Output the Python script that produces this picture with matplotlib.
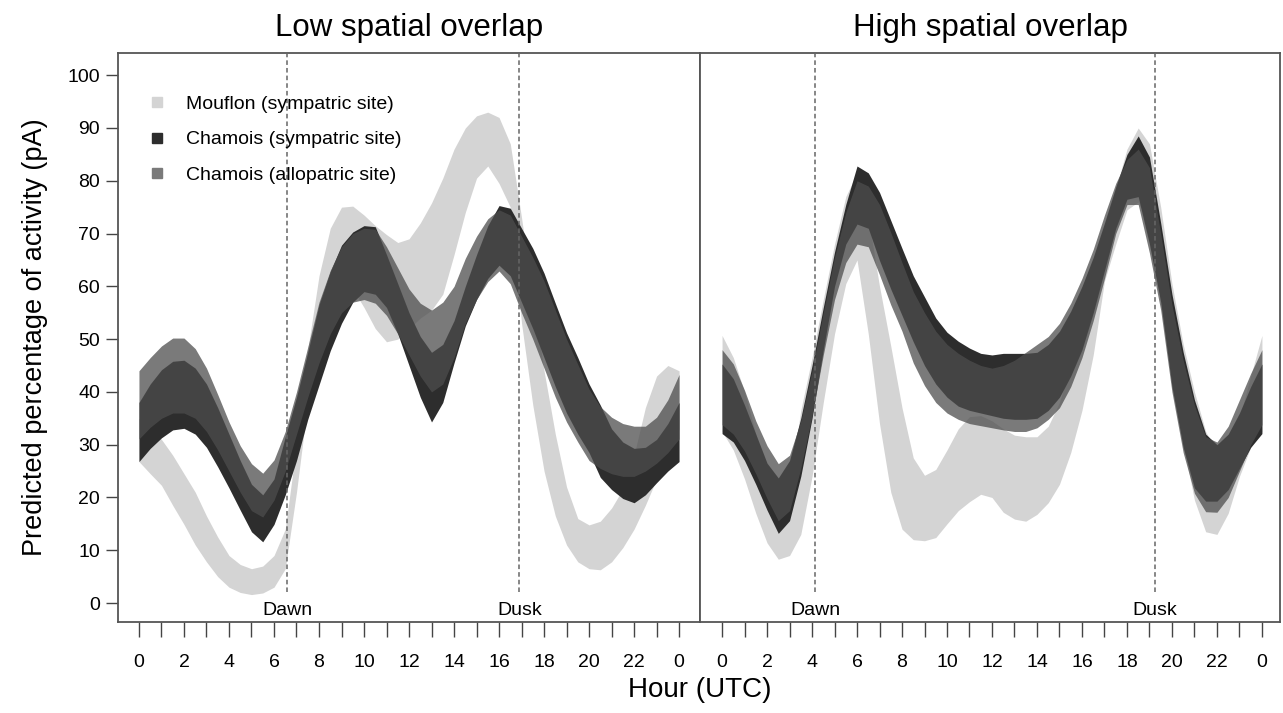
import numpy as np
import matplotlib
matplotlib.use("Agg")
import matplotlib.pyplot as plt
from matplotlib.lines import Line2D

plt.rcParams['font.family'] = ['Liberation Sans', 'DejaVu Sans']

# Stunden-Raster (0 bis 24 in halben Stunden)
hours = np.arange(0, 24.01, 0.5)

# --- Low spatial overlap (links) ---
mouflon_low_lo = [26.8, 24.5, 22.3, 18.5, 14.9, 11.0, 7.8, 5.0, 3.0, 2.0, 1.6, 1.9, 3.0, 6.5,
                  21.0, 38.0, 52.0, 59.0, 61.0, 59.5, 56.0, 52.0, 49.5, 50.0, 52.0, 54.0, 55.5,
                  58.5, 66.0, 74.0, 80.5, 82.8, 79.5, 75.0, 53.0, 37.5, 25.0, 16.5, 11.0, 7.8,
                  6.5, 6.3, 7.8, 10.5, 14.0, 18.5, 23.5, 29.0, 33.0]
mouflon_low_hi = [35.0, 33.0, 31.0, 28.0, 24.5, 21.0, 16.5, 12.5, 9.0, 7.3, 6.5, 7.0, 9.0, 14.0,
                  30.0, 48.0, 62.0, 71.0, 75.0, 75.2, 73.5, 71.5, 69.8, 68.3, 69.0, 72.0, 75.8,
                  80.5, 86.0, 90.0, 92.3, 93.0, 92.0, 87.0, 73.0, 58.0, 44.0, 32.0, 22.0, 16.0,
                  14.8, 15.5, 18.0, 21.6, 28.0, 37.0, 43.0, 45.0, 44.0]
sym_low_lo = [26.8, 29.3, 31.3, 32.8, 33.1, 32.0, 29.5, 25.8, 21.8, 17.6, 13.5, 11.6, 14.9, 20.5,
              27.0, 34.8, 41.3, 47.8, 53.0, 57.0, 59.0, 58.5, 56.0, 51.0, 45.0, 39.0, 34.3,
              38.0, 45.5, 52.5, 57.5, 61.5, 64.0, 62.0, 57.0, 52.0, 46.5, 41.0, 36.0, 32.0,
              28.5, 23.8, 21.5, 19.8, 19.0, 20.5, 22.8, 25.0, 26.8]
sym_low_hi = [38.0, 41.5, 44.2, 45.8, 46.0, 44.5, 41.5, 37.0, 32.0, 27.0, 22.5, 20.5, 23.5, 31.5,
              39.0, 47.5, 56.5, 62.8, 67.8, 70.3, 71.5, 71.3, 66.0, 60.5, 55.0, 50.5, 47.5,
              49.0, 53.5, 60.0, 66.0, 71.5, 75.3, 74.8, 71.0, 67.2, 62.5, 56.8, 51.2, 46.5,
              41.5, 37.5, 33.0, 30.5, 29.3, 29.5, 31.0, 34.0, 38.0]
allo_low_lo = [31.1, 33.3, 35.0, 36.0, 36.0, 35.0, 32.5, 29.0, 25.0, 21.0, 17.5, 16.3, 19.5, 25.0,
               32.0, 39.0, 45.5, 51.0, 55.0, 57.0, 57.5, 56.8, 54.5, 51.0, 47.0, 43.0, 40.0,
               41.5, 46.5, 53.0, 57.5, 60.9, 62.9, 60.5, 55.0, 50.0, 44.5, 39.0, 34.3, 30.5,
               27.0, 25.5, 24.5, 24.0, 24.0, 25.0, 26.5, 28.5, 31.1]
allo_low_hi = [44.0, 46.5, 48.7, 50.2, 50.2, 48.2, 44.5, 39.5, 34.3, 29.8, 26.4, 24.6, 27.1, 32.5,
               40.0, 48.5, 57.0, 63.0, 67.5, 70.0, 71.0, 70.8, 67.5, 63.5, 59.5, 56.8, 55.5,
               57.0, 60.0, 65.3, 69.5, 72.8, 74.5, 73.5, 69.5, 65.5, 61.0, 55.5, 50.0, 45.2,
               40.5, 37.2, 35.2, 34.0, 33.5, 33.5, 35.2, 38.5, 43.3]

# --- High spatial overlap (rechts) ---
mouflon_high_lo = [32.5, 29.0, 23.5, 17.0, 11.4, 8.3, 9.0, 13.0, 24.0, 38.0, 51.0, 60.5, 65.0,
                   51.0, 34.0, 21.0, 14.0, 12.0, 11.8, 12.4, 15.0, 17.5, 19.2, 20.6, 20.0, 17.2,
                   15.9, 15.5, 16.8, 19.0, 22.5, 28.5, 36.5, 47.0, 61.0, 68.0, 74.5, 76.0, 71.5,
                   60.0, 44.0, 30.0, 19.5, 13.5, 13.0, 17.0, 24.0, 29.5, 32.5]
mouflon_high_hi = [50.7, 46.5, 40.0, 32.0, 24.0, 19.0, 22.0, 36.5, 46.5, 57.5, 68.0, 77.0, 81.5,
                   73.0, 60.0, 48.7, 37.0, 27.5, 24.2, 25.3, 29.0, 33.0, 35.3, 35.5, 34.5, 33.0,
                   31.8, 31.5, 31.5, 33.5, 38.0, 45.0, 53.0, 62.5, 71.0, 78.5, 86.0, 90.0, 87.0,
                   75.0, 60.5, 49.0, 40.0, 32.5, 28.5, 29.5, 35.0, 43.0, 50.7]
sym_high_lo = [32.1, 30.5, 27.0, 22.5, 17.6, 13.2, 15.6, 24.0, 35.0, 48.0, 60.0, 68.0, 71.8,
               71.0, 64.9, 59.5, 54.5, 49.5, 45.0, 41.5, 39.0, 37.3, 36.5, 36.0, 35.5, 35.0,
               34.8, 34.8, 35.0, 36.5, 39.0, 43.0, 48.0, 55.0, 63.0, 71.0, 76.5, 77.0, 68.0,
               57.0, 41.0, 29.5, 21.8, 19.3, 19.3, 21.5, 25.5, 29.5, 32.1]
sym_high_hi = [45.3, 42.5, 37.5, 32.0, 26.5, 23.7, 27.0, 35.0, 45.0, 56.0, 66.5, 75.5, 82.8,
               81.5, 77.8, 72.5, 67.2, 62.0, 58.0, 54.0, 51.3, 49.6, 48.3, 47.3, 47.0, 47.3,
               47.3, 47.3, 47.5, 49.0, 51.5, 55.3, 60.0, 65.5, 72.0, 78.8, 85.0, 88.5, 84.5,
               72.0, 58.5, 47.5, 38.5, 32.0, 30.0, 32.0, 36.0, 41.0, 45.3]
allo_high_lo = [33.8, 32.0, 28.8, 24.5, 19.8, 15.6, 17.5, 25.5, 35.5, 47.0, 57.5, 64.5, 68.0,
                67.5, 62.2, 56.5, 51.5, 45.5, 41.2, 38.0, 36.0, 34.8, 34.0, 33.6, 33.2, 32.8,
                32.5, 32.5, 33.2, 34.8, 37.0, 41.0, 46.5, 53.5, 61.5, 70.0, 75.5, 75.5, 66.3,
                55.5, 40.0, 28.5, 20.8, 17.3, 17.2, 20.0, 25.0, 30.0, 33.8]
allo_high_hi = [48.0, 45.3, 40.3, 34.5, 29.8, 26.4, 28.0, 34.5, 44.0, 55.0, 65.5, 74.0, 80.0,
                79.0, 75.5, 70.2, 64.5, 59.0, 55.0, 51.5, 49.0, 47.3, 46.0, 45.0, 44.5, 45.0,
                46.0, 47.5, 49.0, 50.5, 53.0, 56.8, 61.5, 67.0, 73.5, 79.5, 84.0, 86.0, 82.5,
                70.0, 56.5, 46.0, 37.5, 31.5, 30.5, 33.5, 38.5, 43.5, 48.0]

titles = ['Low spatial overlap', 'High spatial overlap']
dawn = [6.6, 4.13]
dusk = [16.9, 19.24]
legend_labels = ['Mouflon (sympatric site)', 'Chamois (sympatric site)', 'Chamois (allopatric site)']

col_mouflon = '#d4d4d4'
col_sym = '#2d2d2d'
col_allo = '#4d4d4d'
frame_col = '#555555'

panels = [
    (mouflon_low_lo, mouflon_low_hi, sym_low_lo, sym_low_hi, allo_low_lo, allo_low_hi),
    (mouflon_high_lo, mouflon_high_hi, sym_high_lo, sym_high_hi, allo_high_lo, allo_high_hi),
]

fig = plt.figure(figsize=(12.83, 7.13), dpi=100)
ax1 = fig.add_axes([0.092, 0.1276, 0.4536, 0.798])
ax2 = fig.add_axes([0.5456, 0.1276, 0.452, 0.798])
axes = [ax1, ax2]
xlims = [(-0.93, 24.93), (-0.98, 24.8)]

for i, ax in enumerate(axes):
    m_lo, m_hi, s_lo, s_hi, a_lo, a_hi = panels[i]
    ax.fill_between(hours, m_lo, m_hi, color=col_mouflon, lw=0, zorder=1)
    ax.fill_between(hours, s_lo, s_hi, color=col_sym, lw=0, zorder=2)
    ax.fill_between(hours, a_lo, a_hi, color=col_allo, alpha=0.75, lw=0, zorder=3)

    # Dawn / Dusk
    ax.vlines([dawn[i], dusk[i]], 2.0, 104.2, colors='#666666', linestyles=(0, (3, 2)),
              lw=1.1, zorder=4)
    ax.text(dawn[i], -1.4, 'Dawn', ha='center', va='center', fontsize=14)
    ax.text(dusk[i], -1.4, 'Dusk', ha='center', va='center', fontsize=14)

    ax.set_xlim(*xlims[i])
    ax.set_ylim(-3.6, 104.2)
    ax.set_xticks(range(25))
    ax.set_xticklabels([str(h % 24) if h % 2 == 0 else '' for h in range(25)], fontsize=14)
    ax.tick_params(axis='x', direction='out', length=11, width=1, color='#444444', pad=12)
    ax.set_title(titles[i], fontsize=22.5, pad=12)
    for sp in ax.spines.values():
        sp.set_color(frame_col)
        sp.set_linewidth(1.3)

ax1.set_yticks(range(0, 101, 10))
ax1.tick_params(axis='y', direction='out', length=9, width=1, color='#444444', labelsize=14, pad=4)
ax1.set_ylabel('Predicted percentage of activity (pA)', fontsize=19.5, labelpad=14)
ax2.set_yticks([])

handles = [Line2D([], [], marker='s', ls='none', color=c, markersize=7.5)
           for c in [col_mouflon, col_sym, '#7a7a7a']]
ax1.legend(handles, legend_labels, loc='upper left', bbox_to_anchor=(0.0, 0.96), frameon=False,
           fontsize=14, handletextpad=0.5, labelspacing=0.92, borderaxespad=0.6)

fig.text(0.5456, 0.032, 'Hour (UTC)', ha='center', va='center', fontsize=20)

plt.savefig('out.png', dpi=100)
